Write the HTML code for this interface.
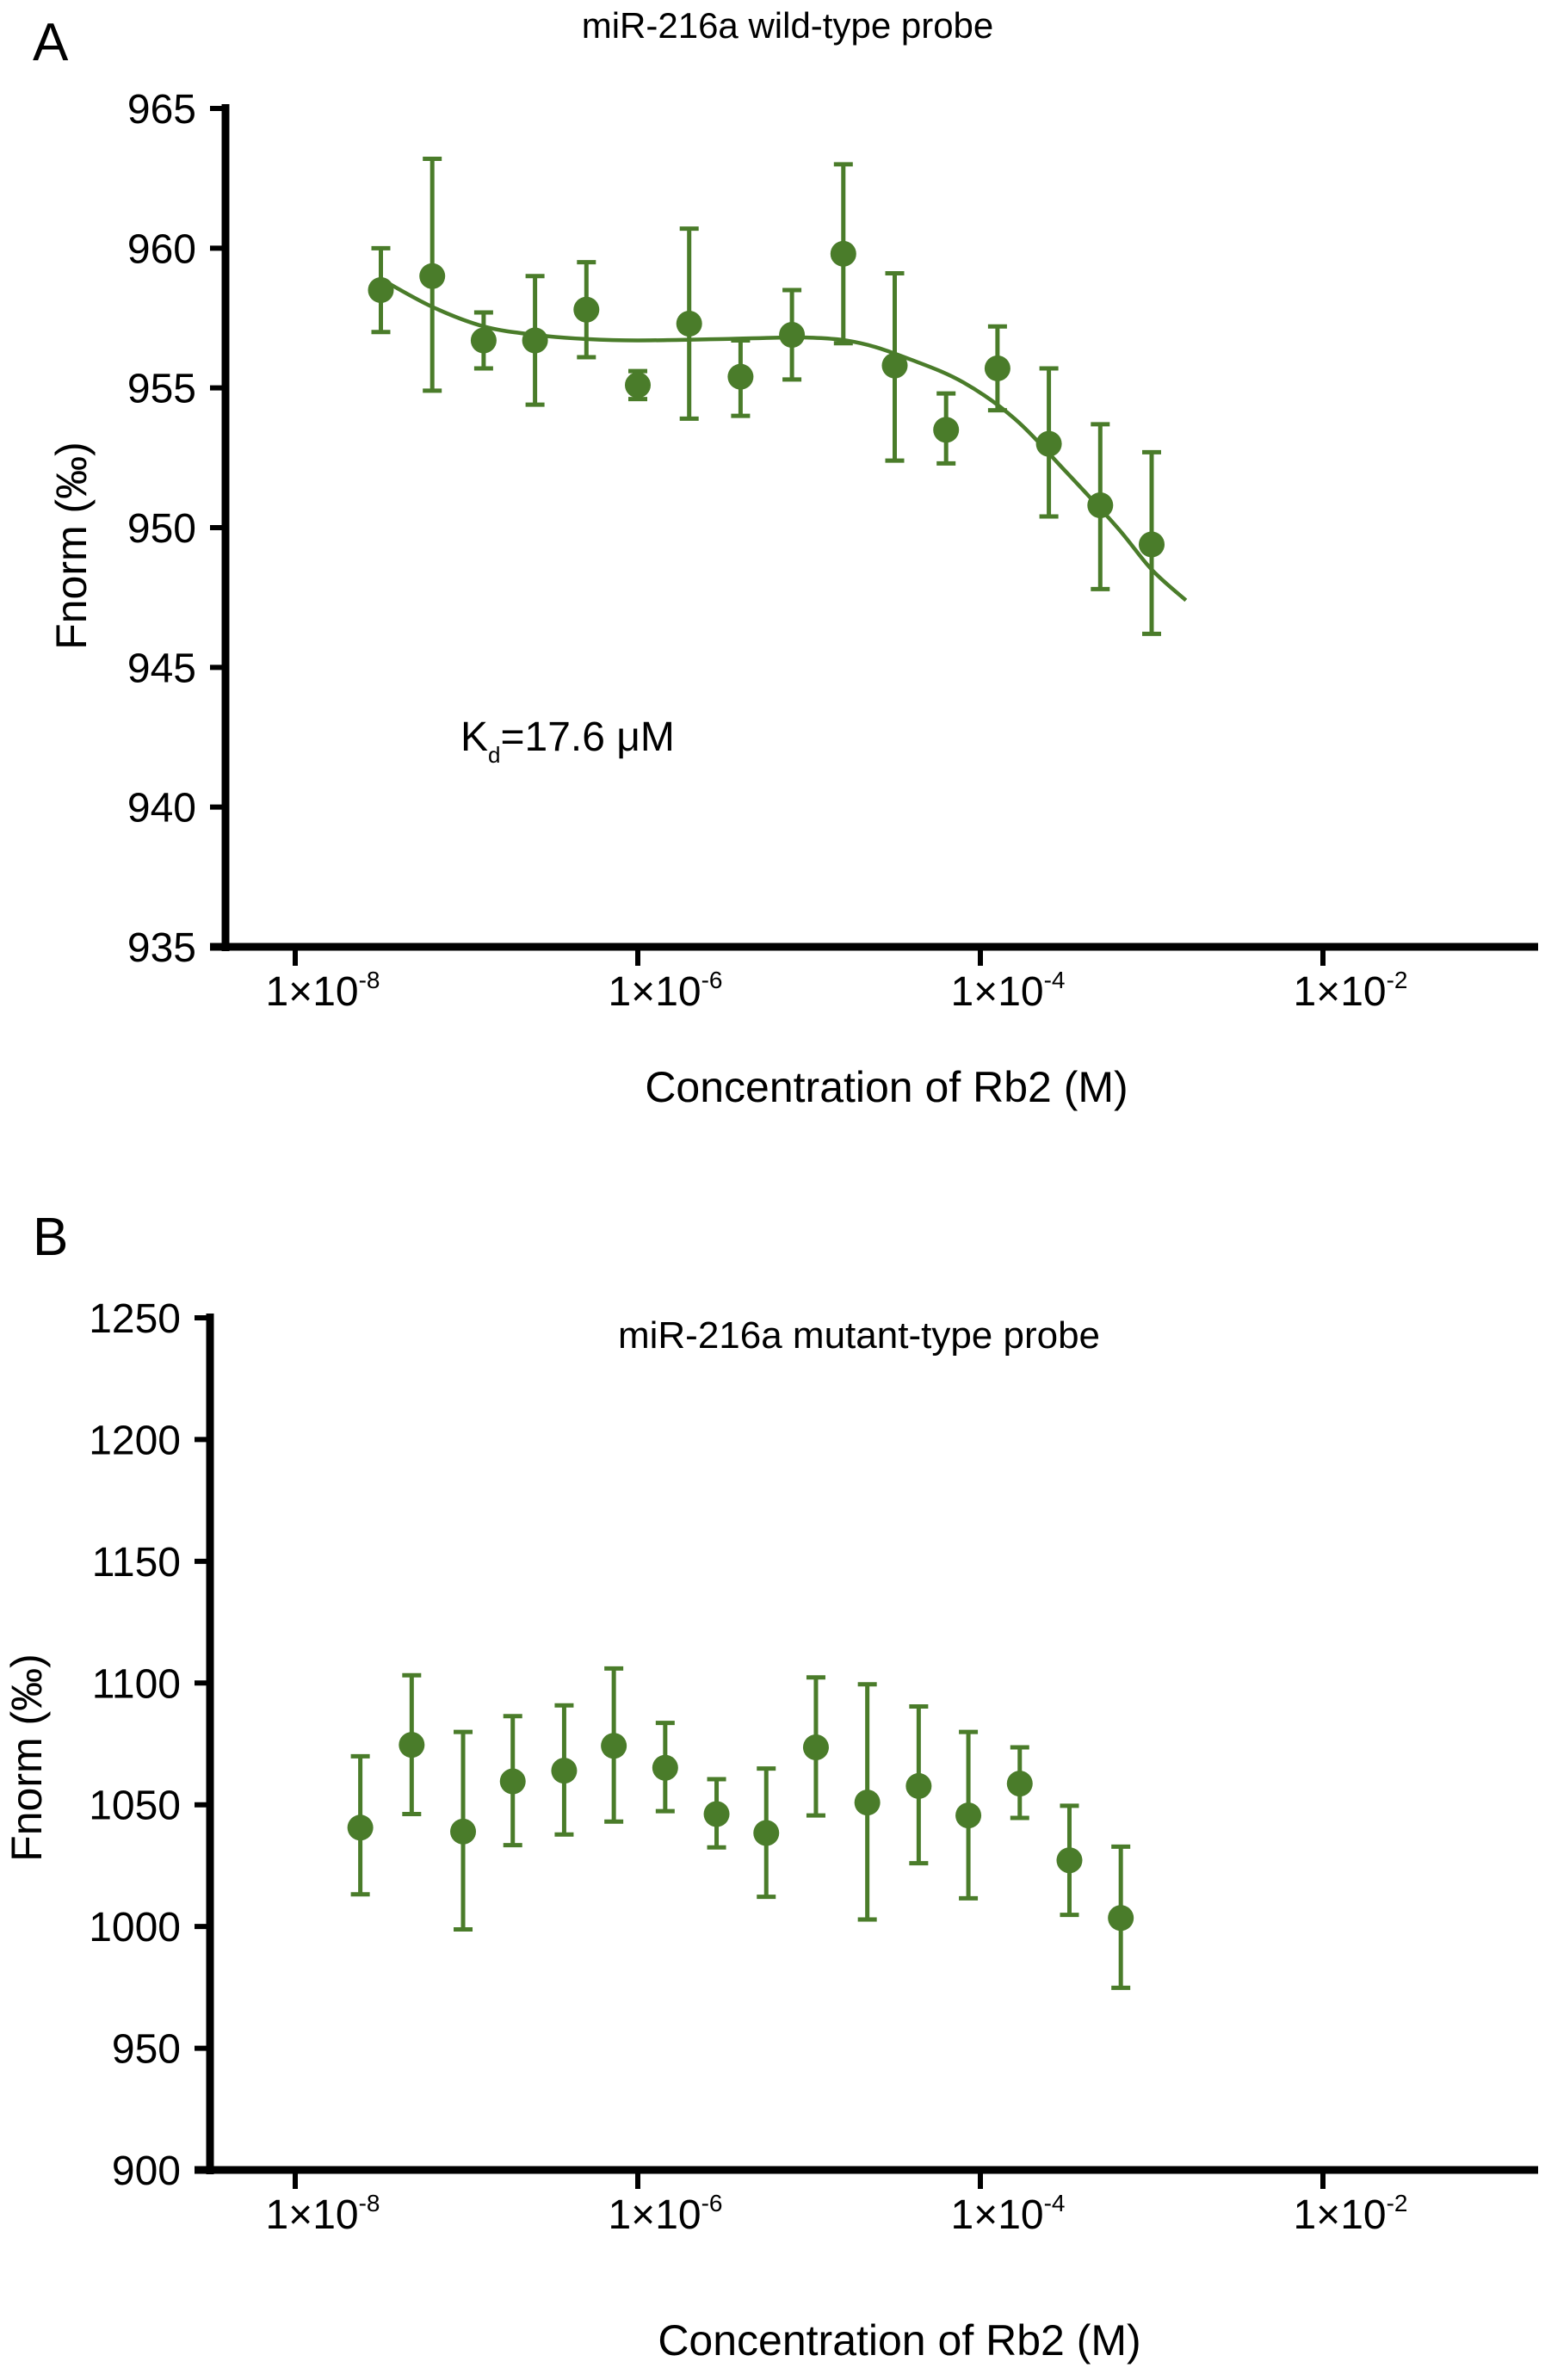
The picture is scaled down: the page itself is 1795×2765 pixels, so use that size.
<!DOCTYPE html>
<html><head><meta charset="utf-8">
<style>
html,body{margin:0;padding:0;background:#fff;}
svg{display:block;font-family:"Liberation Sans",Arial,sans-serif;}
</style></head>
<body>
<svg id="fig" width="1795" height="2765" viewBox="0 0 1795 2765" xmlns="http://www.w3.org/2000/svg">
<text x="38" y="70" font-size="62">A</text>
<text x="915" y="44" font-size="42" text-anchor="middle">miR-216a wild-type probe</text>
<text transform="translate(100,634) rotate(-90)" font-size="50" text-anchor="middle">Fnorm (‰)</text>
<text x="1030" y="1280" font-size="50" text-anchor="middle">Concentration of Rb2 (M)</text>
<text x="535" y="872" font-size="48">K<tspan font-size="26" dy="14">d</tspan><tspan dy="-14">=17.6 μM</tspan></text>
<g id="chartA"></g>

<text x="38" y="1458" font-size="62">B</text>
<text x="998" y="1566" font-size="44" text-anchor="middle">miR-216a mutant-type probe</text>
<text transform="translate(48,2042) rotate(-90)" font-size="50" text-anchor="middle">Fnorm (‰)</text>
<text x="1045" y="2736" font-size="50" text-anchor="middle">Concentration of Rb2 (M)</text>
<g id="chartB"></g>
</svg>
<script>
// Panel A data
const aLogConc = [-7.50,-7.20,-6.90,-6.60,-6.30,-6.00,-5.70,-5.40,-5.10,-4.80,-4.50,-4.20,-3.90,-3.60,-3.30,-3.00];
const aValues = [958.5,959.0,956.7,956.7,957.8,955.1,957.3,955.4,956.9,959.8,955.8,953.5,955.7,953.0,950.8,949.4];
const aErrHigh = [960.0,963.2,957.7,959.0,959.5,955.6,960.7,956.7,958.5,963.0,959.1,954.8,957.2,955.7,953.7,952.7];
const aErrLow = [957.0,954.9,955.7,954.4,956.1,954.6,953.9,954.0,955.3,956.6,952.4,952.3,954.2,950.4,947.8,946.2];
const aFitLog = [-7.50,-7.20,-6.90,-6.60,-6.30,-6.00,-5.50,-5.00,-4.70,-4.40,-4.10,-3.80,-3.50,-3.20,-3.00,-2.80];
const aFitVal = [958.9,957.9,957.2,956.9,956.75,956.7,956.75,956.8,956.6,956.0,955.2,953.9,952.0,950.0,948.5,947.4];
const aYTicks = [935,940,945,950,955,960,965];
// Panel B data
const bLogConc = [-7.62,-7.32,-7.02,-6.73,-6.43,-6.14,-5.84,-5.54,-5.25,-4.96,-4.66,-4.36,-4.07,-3.77,-3.48,-3.18];
const bValues = [1040.6,1074.6,1039.0,1059.6,1064.0,1074.2,1065.2,1046.2,1038.4,1073.6,1050.9,1057.7,1045.6,1058.7,1027.2,1003.5];
const bErrHigh = [1069.9,1103.2,1079.9,1086.4,1090.8,1106.0,1083.6,1060.5,1064.9,1102.3,1099.5,1090.4,1079.9,1073.6,1049.6,1032.8];
const bErrLow = [1013.2,1046.2,998.8,1033.4,1037.8,1043.1,1047.4,1032.5,1012.2,1045.6,1002.9,1026.0,1011.6,1044.6,1004.8,974.8];
const bYTicks = [900,950,1000,1050,1100,1150,1200,1250];
const xTickLogs = [-8,-6,-4,-2];
const xTickExps = ["-8","-6","-4","-2"];

const NS="http://www.w3.org/2000/svg";
const GREEN="#4a7c2a";
function mk(tag,attrs,parent){const e=document.createElementNS(NS,tag);for(const k in attrs)e.setAttribute(k,attrs[k]);parent.appendChild(e);return e;}

function drawPanel(g, cfg){
  const xS = l => 343 + (l+8)*199;
  const yS = v => cfg.yBot - (v-cfg.yMin)/(cfg.yMax-cfg.yMin)*(cfg.yBot-cfg.yTop);
  const ya = mk('line',{x1:cfg.axX,y1:cfg.yTop-5,x2:cfg.axX,y2:cfg.yBot+5,stroke:'#000','stroke-width':9},g);
  
  
  const xa = mk('line',{x1:cfg.axX-18,y1:cfg.yBot,x2:1787,y2:cfg.yBot,stroke:'#000','stroke-width':9},g);
  
  
  cfg.yTicks.forEach(v=>{
    const y=yS(v);
    const t=mk('line',{x1:cfg.axX-18,y1:y,x2:cfg.axX,y2:y,stroke:'#000','stroke-width':6},g);
    
    
    const tx=mk('text',{x:cfg.axX-34,y:y+17,'font-size':48,'text-anchor':'end'},g);
    tx.textContent=v;
    
    
  });
  xTickLogs.forEach((l,i)=>{
    const x=xS(l);
    const t=mk('line',{x1:x,y1:cfg.yBot,x2:x,y2:cfg.yBot+22,stroke:'#000','stroke-width':6},g);
    
    
    const tx=mk('text',{x:x+32,y:cfg.yBot+68,'font-size':48,'text-anchor':'middle'},g);
    tx.innerHTML='1×10<tspan font-size="28" dy="-20">'+xTickExps[i]+'</tspan>';
    
    
  });
  if(cfg.fitLog){
    const P=cfg.fitLog.map((l,i)=>[xS(l),yS(cfg.fitVal[i])]);
    let d='M'+P[0][0].toFixed(1)+','+P[0][1].toFixed(1);
    for(let i=0;i<P.length-1;i++){
      const p0=P[Math.max(0,i-1)],p1=P[i],p2=P[i+1],p3=P[Math.min(P.length-1,i+2)];
      const c1=[p1[0]+(p2[0]-p0[0])/6,p1[1]+(p2[1]-p0[1])/6];
      const c2=[p2[0]-(p3[0]-p1[0])/6,p2[1]-(p3[1]-p1[1])/6];
      d+=` C${c1[0].toFixed(1)},${c1[1].toFixed(1)} ${c2[0].toFixed(1)},${c2[1].toFixed(1)} ${p2[0].toFixed(1)},${p2[1].toFixed(1)}`;
    }
    const p=mk('path',{d:d,fill:'none',stroke:GREEN,'stroke-width':4.5,'stroke-linejoin':'round'},g);
    
    
  }
  cfg.logs.forEach((l,i)=>{
    const x=xS(l), y1=yS(cfg.hi[i]), y2=yS(cfg.lo[i]);
    const eb=mk('path',{d:`M${x},${y1} L${x},${y2} M${x-11},${y1} L${x+11},${y1} M${x-11},${y2} L${x+11},${y2}`,stroke:GREEN,'stroke-width':5,fill:'none'},g);
    
    
    const c=mk('circle',{cx:x,cy:yS(cfg.vals[i]),r:15,fill:GREEN},g);
    
    
  });
}
drawPanel(document.getElementById('chartA'),{axX:262,yTop:126,yBot:1100,yMin:935,yMax:965,yTicks:aYTicks,logs:aLogConc,vals:aValues,hi:aErrHigh,lo:aErrLow,fitLog:aFitLog,fitVal:aFitVal});
drawPanel(document.getElementById('chartB'),{axX:244,yTop:1531,yBot:2521,yMin:900,yMax:1250,yTicks:bYTicks,logs:bLogConc,vals:bValues,hi:bErrHigh,lo:bErrLow});
</script>
</body></html>
